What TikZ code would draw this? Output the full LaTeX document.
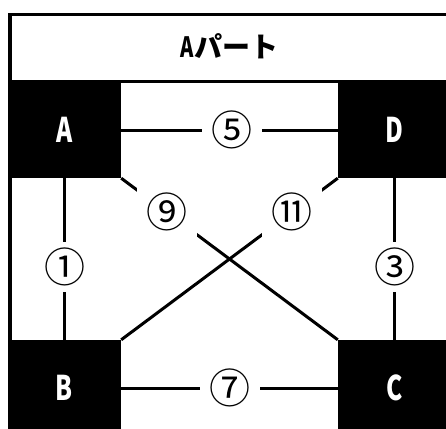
\documentclass[tikz,border=0pt]{standalone}
\usepackage{fontspec}
\newfontfamily\jpfont{Noto Sans CJK JP}
\newcommand{\condtxt}[1]{\scalebox{0.72}[1]{#1}}
\tikzset{
  blockbox/.style={fill=black, draw=none, inner sep=0pt, minimum width=113pt, minimum height=96pt,
    text=white, font=\jpfont\bfseries\fontsize{34}{34}\selectfont},
  lbl/.style={fill=white, inner sep=0pt, minimum width=60pt, minimum height=50pt,
    font=\jpfont\fontsize{41}{41}\selectfont},
  conn/.style={line width=3pt}
}
\begin{document}
\begin{tikzpicture}[x=1pt,y=-1pt]
\useasboundingbox (0,0) rectangle (446,428);
\clip (0,0) rectangle (446,428);
% frame and header
\draw[line width=3.5pt] (10,14.5) rectangle (451,436);
\draw[line width=3pt] (10,81.5) -- (451,81.5);
\node[font=\jpfont\bfseries\fontsize{28}{28}\selectfont, inner sep=0pt] (hdr) at (229.5,46) {\condtxt{A}パート};
% blocks
\node[blockbox] (A) at (64.5,130) {\condtxt{A}};
\node[blockbox] (D) at (394.5,130) {\condtxt{D}};
\node[blockbox] (B) at (64.5,388) {\condtxt{B}};
\node[blockbox] (C) at (394.5,388) {\condtxt{C}};
% connectors
\draw[conn] (A) -- node[lbl, pos=0.51]{⑤} (D);
\draw[conn] (B) -- node[lbl, pos=0.5]{⑦} (C);
\draw[conn] (A) -- node[lbl, pos=0.55]{①} (B);
\draw[conn] (D) -- node[lbl, pos=0.55]{③} (C);
\draw[conn] (A.south east) -- node[lbl, pos=0.21]{⑨} (C.north west);
\draw[conn] (D.south west) -- node[lbl, pos=0.21]{⑪} (B.north east);
\end{tikzpicture}
\end{document}
